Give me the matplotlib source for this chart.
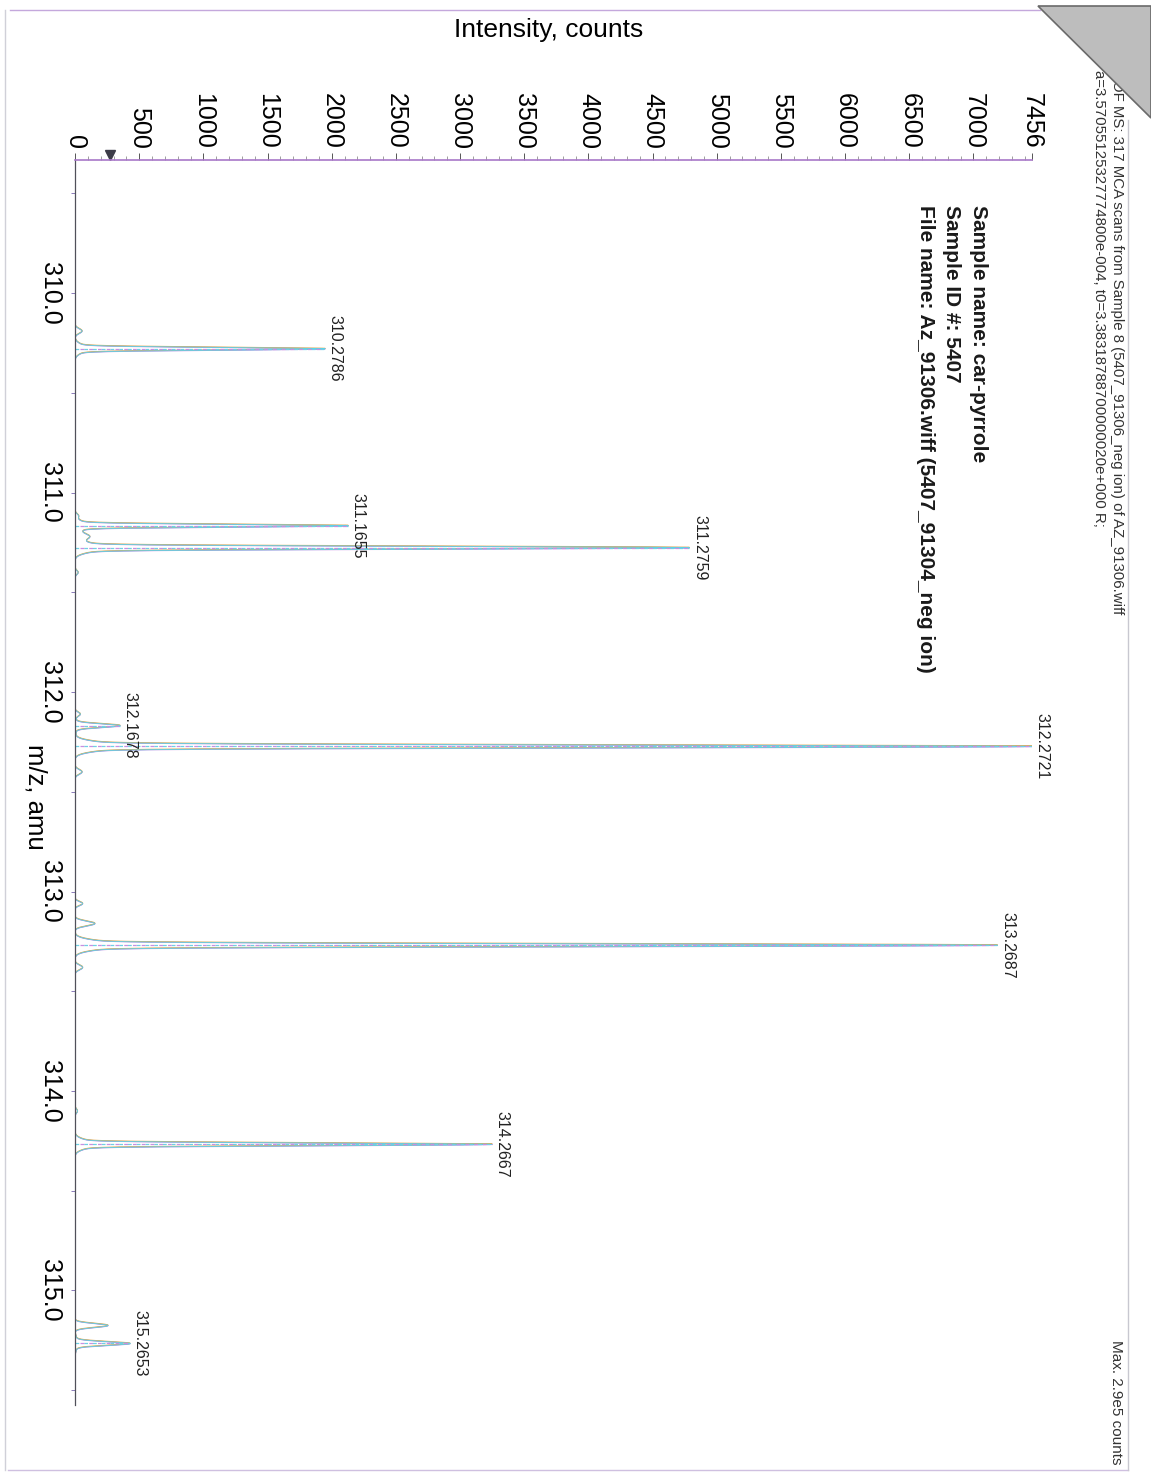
"""
Espectro de masas (-TOF MS) impreso en una hoja girada 90 grados:
la intensidad va en horizontal (arriba) y m/z en vertical hacia abajo.
"""

import numpy as np
import matplotlib
matplotlib.use('Agg')
import matplotlib.pyplot as plt
import matplotlib.transforms as mtransforms
from matplotlib.lines import Line2D
from matplotlib.patches import Polygon
from matplotlib.ticker import MultipleLocator

plt.rcParams['font.family'] = ['Liberation Sans', 'DejaVu Sans']

W, H = 1151, 1475   # tamaño de la hoja en pixeles


# --- Datos ---
peak_mz = [310.2786, 311.1655, 311.2759, 312.1678, 312.2721, 313.2687, 314.2667, 315.2653]
peak_int = [1949, 2128, 4786, 351, 7456, 7186, 3250, 429]
peak_width = [0.0065, 0.0065, 0.0065, 0.009, 0.0065, 0.0065, 0.0065, 0.009]
peak_labels = ['310.2786', '311.1655', '311.2759', '312.1678',
               '312.2721', '313.2687', '314.2667', '315.2653']

# picos chicos del fondo (linea gris cerca de la base)
small_mz = [310.19, 311.115, 311.22, 311.40, 312.11, 312.40, 313.06, 313.16, 313.38, 314.10, 315.175]
small_int = [55, 25, 110, 25, 40, 55, 60, 155, 60, 20, 257]
small_width = [0.012, 0.010, 0.015, 0.010, 0.010, 0.012, 0.010, 0.012, 0.012, 0.010, 0.010]

int_ticks = [0, 500, 1000, 1500, 2000, 2500, 3000, 3500, 4000,
             4500, 5000, 5500, 6000, 6500, 7000, 7456]
mz_ticks = [310.0, 311.0, 312.0, 313.0, 314.0, 315.0]

MZ_MIN, MZ_MAX = 309.333, 315.574
INT_MAX = 7456

header_1 = '-TOF MS: 317 MCA scans from Sample 8 (5407_91306_neg ion) of AZ_91306.wiff'
header_2 = 'a=3.57055125327774800e-004, t0=3.38318788700000020e+000 R;'
info_lines = ['Sample name: car-pyrrole',
              'Sample ID #: 5407',
              'File name: Az_91306.wiff (5407_91304_neg ion)']


def fx(x):          # pixel -> coordenada de figura
    return x / W


def fy(y):
    return 1 - y / H


# --- Perfil del espectro ---
grid = np.linspace(MZ_MIN, MZ_MAX, 40000)
perfil = np.zeros_like(grid)
for m, h, s in zip(peak_mz, peak_int, peak_width):
    perfil += 0.95 * h * np.exp(-0.5 * ((grid - m) / s) ** 2)
    perfil += 0.05 * h * np.exp(-0.5 * ((grid - m) / (3 * s)) ** 2)   # base ancha
for m, h, s in zip(small_mz, small_int, small_width):
    perfil += h * np.exp(-0.5 * ((grid - m) / s) ** 2)


fig = plt.figure(figsize=(W / 100, H / 100), dpi=100)
ax = fig.add_axes([fx(75), fy(1405), fx(1032) - fx(75), fy(160) - fy(1405)])

# lineas de colores (el escaneo separa los colores de la impresion)
for dy, col, lw in [(0.0, '#8c90a0', 0.6), (0.0015, '#c98fe6', 0.7),
                    (-0.0015, '#e2ac55', 0.7), (0.0007, '#5fcfe6', 0.6)]:
    ax.plot(perfil, grid + dy, color=col, lw=lw)

# linea punteada del centroide de cada pico
ax.hlines(peak_mz, 0, peak_int, colors='#6fd0e4', linestyles=(0, (3, 4)), lw=0.9)
ax.hlines(peak_mz, 0, peak_int, colors='#c78fe2', linestyles=(3, (3, 4)), lw=0.9)

for m, h, lab in zip(peak_mz, peak_int, peak_labels):
    ax.annotate(lab, xy=(h, m), xytext=(2, 0), textcoords='offset points',
                rotation=270, ha='left', va='center', fontsize=11.5, color='#222')

ax.set_xlim(0, INT_MAX)
ax.set_ylim(MZ_MAX, MZ_MIN)

for lado in ['right', 'bottom']:
    ax.spines[lado].set_visible(False)
ax.spines['top'].set_color('#a878c8')
ax.spines['top'].set_linewidth(1.2)
ax.spines['left'].set_color('#50505a')
ax.spines['left'].set_linewidth(0.9)

ax.xaxis.tick_top()
ax.set_xticks(int_ticks)
ax.set_xticklabels([str(t) for t in int_ticks])
ax.xaxis.set_minor_locator(MultipleLocator(100))
ax.tick_params(axis='x', which='major', length=5, width=0.7, color='#555',
               labelsize=18, labelrotation=270, pad=3)
ax.tick_params(axis='x', which='minor', length=3, width=0.5, color='#777')

ax.set_yticks(mz_ticks)
ax.set_yticklabels(['%.1f' % t for t in mz_ticks])
ax.yaxis.set_minor_locator(MultipleLocator(0.5))
ax.tick_params(axis='y', which='both', length=3, width=0.7, color='#8a7ab8',
               labelsize=18, labelrotation=270, pad=6)
for t in ax.get_yticklabels():
    t.set_va('center')

# marcador de umbral sobre el eje de intensidad
trans = mtransforms.offset_copy(ax.transData, fig=fig, x=0, y=5, units='dots')
ax.plot([270], [MZ_MIN], marker='v', ms=7, color='#3c3c48', clip_on=False, transform=trans)

# --- Textos ---
fig.text(fx(549), fy(30), 'Intensity, counts', ha='center', va='center', fontsize=19)
fig.text(fx(35), fy(797), 'm/z, amu', ha='center', va='center', fontsize=18.5, rotation=270)

fig.text(fx(1117), fy(66), header_1, ha='center', va='top', fontsize=10.8,
         rotation=270, color='#333')
fig.text(fx(1099), fy(70), header_2, ha='center', va='top', fontsize=10.8,
         rotation=270, color='#333')
for xp, linea in zip([978, 952, 925], info_lines):
    fig.text(fx(xp), fy(205), linea, ha='center', va='top', fontsize=15,
             fontweight='bold', rotation=270, color='#1a1a1a')
fig.text(fx(1116), fy(1340), 'Max. 2.9e5 counts', ha='center', va='top',
         fontsize=11, rotation=270, color='#333')

# marco de la hoja y esquina doblada
for (x0, y0, x1, y1, col) in [(10, 10, 1040, 10, '#c4a8dc'), (8, 1470, 1128, 1470, '#cfc0e0'),
                              (5, 10, 5, 1470, '#d0d0d8'), (1128, 120, 1128, 1470, '#c8c8d0')]:
    fig.add_artist(Line2D([fx(x0), fx(x1)], [fy(y0), fy(y1)], transform=fig.transFigure,
                          color=col, lw=1.0))
fig.add_artist(Polygon([[fx(1038), fy(6)], [fx(1151), fy(6)], [fx(1151), fy(118)]],
                       closed=True, transform=fig.transFigure, facecolor='#bdbdbd',
                       edgecolor='#6a6a6a', lw=1.2, zorder=5))

fig.savefig('out.png', dpi=100)
